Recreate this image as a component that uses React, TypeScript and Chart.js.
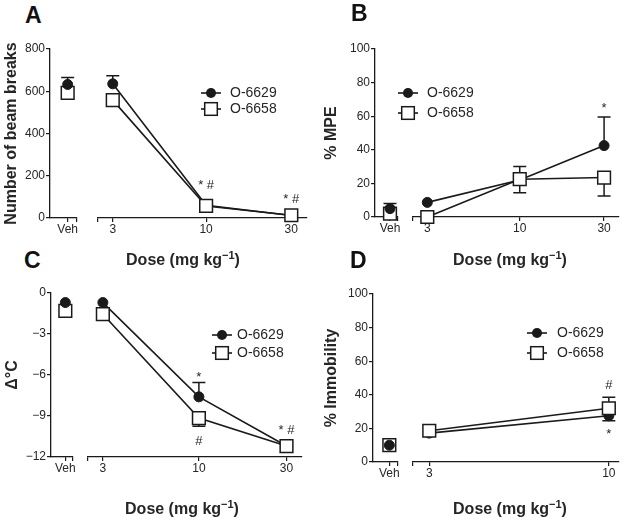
import React, { useEffect, useRef } from 'react';
import { Chart, registerables } from 'chart.js';

Chart.register(...registerables);

const FONT = "'Liberation Sans', Arial, Helvetica, sans-serif";
const INK = '#1a1a1a';
const TXT = '#262626';

Chart.defaults.font.family = FONT;
Chart.defaults.color = TXT;

// ---------- data ----------
const seriesNames = ['O-6629', 'O-6658'];
const vehLabel = 'Veh';

// Panel A: beam breaks (index 0 = Veh, then doses)
const dosesA = [3, 10, 30];
const doseLabelsA = ['3', '10', '30'];
const a6629 = [632, 635, 60, 12];
const a6629Up = [33, 38, 0, 0];
const a6629Down = [0, 0, 0, 0];
const a6658 = [592, 558, 57, 13];
const a6658Up = [0, 0, 0, 0];
const a6658Down = [30, 0, 0, 0];
const annA = [
  { dose: 10, series: 1, text: '* #', side: 'above' },
  { dose: 30, series: 1, text: '* #', side: 'above' },
];

// Panel B: % MPE
const dosesB = [3, 10, 30];
const doseLabelsB = ['3', '10', '30'];
const b6629 = [5, 8.7, 22, 42.5];
const b6629Up = [3, 0, 0, 17];
const b6629Down = [0, 0, 0, 0];
const b6658 = [2, 0, 22.5, 23.5];
const b6658Up = [0, 0, 7.5, 0];
const b6658Down = [0, 0, 8, 11];
const annB = [{ dose: 30, series: 0, text: '*', side: 'above' }];

// Panel C: delta temperature
const dosesC = [3, 10, 30];
const doseLabelsC = ['3', '10', '30'];
const c6629 = [-0.7, -0.7, -7.6, -11.2];
const c6629Up = [0, 0, 1.05, 0];
const c6629Down = [0, 0, 0, 0];
const c6658 = [-1.3, -1.55, -9.15, -11.2];
const c6658Up = [0, 0, 0, 0];
const c6658Down = [0, 0, 0.6, 0];
const annC = [
  { dose: 10, series: 0, text: '*', side: 'above' },
  { dose: 10, series: 1, text: '#', side: 'below' },
  { dose: 30, series: 1, text: '* #', side: 'above' },
];

// Panel D: % immobility
const dosesD = [3, 10];
const doseLabelsD = ['3', '10'];
const d6629 = [10, 17.2, 27.5];
const d6629Up = [0, 0, 0];
const d6629Down = [0, 0, 3];
const d6658 = [10, 18.6, 32];
const d6658Up = [0, 0, 6.5];
const d6658Down = [0, 0, 0];
const annD = [
  { dose: 10, series: 1, text: '#', side: 'above' },
  { dose: 10, series: 0, text: '*', side: 'below' },
];

// ---------- layout / style ----------
const T = 20; // top padding in canvases
const XH = 22; // x axis height

const panels = [
  {
    letter: 'A', letterPos: { x: 25, capTop: 7 },
    doses: dosesA, doseLabels: doseLabelsA,
    series: [
      { values: a6629, up: a6629Up, down: a6629Down },
      { values: a6658, up: a6658Up, down: a6658Down },
    ],
    y: { min: 0, max: 800, step: 200, title: 'Number of beam breaks', titlePad: 2 },
    xr: { min: 2.48, max: 36.5 },
    g: { vLeft: 0, yAxisX: 50, vehRight: 81, mainLeft: 98, mainRight: 307, top: 49, bottom: 218, PR: 10 },
    legend: { cx: 211, y: 93, dy: 16, tx: 19 },
    ann: annA, annDy: [-16.5, -12.5],
    xTitle: { cx: 183, capTop: 254 },
  },
  {
    letter: 'B', letterPos: { x: 351, capTop: 5 },
    doses: dosesB, doseLabels: doseLabelsB,
    series: [
      { values: b6629, up: b6629Up, down: b6629Down },
      { values: b6658, up: b6658Up, down: b6658Down },
    ],
    y: { min: 0, max: 100, step: 20, title: '% MPE', titlePad: 10.4 },
    xr: { min: 2.49, max: 36.2 },
    g: { vLeft: 312, yAxisX: 375, vehRight: 402, mainLeft: 413, mainRight: 627, top: 49, bottom: 217, PR: 2 },
    legend: { cx: 408, y: 93, dy: 20, tx: 19 },
    ann: annB, annDy: [-5],
    xTitle: { cx: 510, capTop: 254 },
  },
  {
    letter: 'C', letterPos: { x: 24, capTop: 252 },
    doses: dosesC, doseLabels: doseLabelsC,
    series: [
      { values: c6629, up: c6629Up, down: c6629Down },
      { values: c6658, up: c6658Up, down: c6658Down },
    ],
    y: { min: -12, max: 0, step: 3, title: '\u0394\u00b0C', titlePad: 3 },
    xr: { min: 2.49, max: 36.2 },
    g: { vLeft: 0, yAxisX: 51, vehRight: 77, mainLeft: 88, mainRight: 302, top: 293, bottom: 457, PR: 10 },
    legend: { cx: 222, y: 335, dy: 18, tx: 15 },
    ann: annC, annDy: [-2, 19, -12],
    xTitle: { cx: 182, capTop: 503 },
  },
  {
    letter: 'D', letterPos: { x: 350, capTop: 252 },
    doses: dosesD, doseLabels: doseLabelsD,
    series: [
      { values: d6629, up: d6629Up, down: d6629Down },
      { values: d6658, up: d6658Up, down: d6658Down },
    ],
    y: { min: 0, max: 100, step: 20, title: '% Immobility', titlePad: 10 },
    xr: { min: 2.69, max: 10.67 },
    g: { vLeft: 312, yAxisX: 373, vehRight: 402, mainLeft: 413, mainRight: 625, top: 294, bottom: 462, PR: 4 },
    legend: { cx: 537, y: 333, dy: 20, tx: 20 },
    ann: annD, annDy: [-8.5, 17],
    xTitle: { cx: 510, capTop: 503 },
  },
];

const PL = 28;

function vehBox(p: any) {
  const g = p.g;
  return { x: g.vLeft, y: g.top - T, w: g.vehRight + 6 - g.vLeft, h: T + (g.bottom - g.top) + XH };
}
function mainBox(p: any) {
  const g = p.g;
  return { x: g.mainLeft - PL, y: g.top - T, w: g.mainRight - g.mainLeft + PL + g.PR, h: T + (g.bottom - g.top) + XH };
}

const markerStyle = (k: number) =>
  k === 0
    ? { pointStyle: 'circle', pointRadius: 5, pointBackgroundColor: INK, pointBorderColor: INK, pointBorderWidth: 1 }
    : { pointStyle: 'rect', pointRadius: 9, pointBackgroundColor: '#ffffff', pointBorderColor: INK, pointBorderWidth: 1.5 };

const errorBars = {
  id: 'errorBars',
  beforeDatasetsDraw(chart: any) {
    const { ctx } = chart;
    const xs = chart.scales.x;
    const ys = chart.scales.y;
    ctx.save();
    ctx.strokeStyle = INK;
    ctx.lineWidth = 1.5;
    chart.data.datasets.forEach((ds: any) => {
      ds.data.forEach((pt: any, i: number) => {
        const x = xs.getPixelForValue(pt.x);
        const y = ys.getPixelForValue(pt.y);
        const ends: number[] = [];
        if (ds.errUp && ds.errUp[i]) ends.push(pt.y + ds.errUp[i]);
        if (ds.errDown && ds.errDown[i]) ends.push(pt.y - ds.errDown[i]);
        ends.forEach((v) => {
          const yy = ys.getPixelForValue(v);
          ctx.beginPath();
          ctx.moveTo(x, y);
          ctx.lineTo(x, yy);
          ctx.moveTo(x - 6.5, yy);
          ctx.lineTo(x + 6.5, yy);
          ctx.stroke();
        });
      });
    });
    ctx.restore();
  },
};

function axisStyle() {
  return {
    grid: { display: true, drawOnChartArea: false, drawTicks: true, tickLength: 4, color: INK, lineWidth: 1.2 },
    border: { display: true, color: INK, width: 1.3 },
  };
}

function vehConfig(p: any): any {
  const g = p.g;
  return {
    type: 'line',
    data: {
      datasets: p.series.map((s: any, k: number) => ({
        label: seriesNames[k],
        data: [{ x: 2, y: s.values[0] }],
        errUp: [s.up[0]],
        errDown: [s.down[0]],
        showLine: false,
        order: k,
        clip: false,
        borderColor: INK,
        ...markerStyle(k),
      })),
    },
    options: {
      responsive: false,
      animation: false,
      events: [],
      layout: { padding: { left: 0, right: 6, top: T, bottom: 0 } },
      plugins: { legend: { display: false }, tooltip: { enabled: false } },
      scales: {
        x: {
          type: 'linear', min: 0, max: 3,
          afterBuildTicks: (s: any) => { s.ticks = [{ value: 2 }, { value: 3 }]; },
          afterFit: (s: any) => { s.height = XH; },
          ticks: { autoSkip: false, maxRotation: 0, padding: 0, font: { size: 12 }, color: TXT,
            callback: (v: any) => (v === 2 ? vehLabel : '') },
          ...axisStyle(),
        },
        y: {
          type: 'linear', min: p.y.min, max: p.y.max,
          afterFit: (s: any) => { s.width = g.yAxisX - g.vLeft; },
          ticks: { stepSize: p.y.step, padding: 1, font: { size: 12 }, color: TXT,
            callback: (v: any) => (v < 0 ? '\u2212' + Math.abs(v) : String(v)) },
          title: { display: true, text: p.y.title, font: { size: 16, weight: 'bold' }, color: TXT,
            padding: { top: p.y.titlePad, bottom: 0 } },
          ...axisStyle(),
        },
      },
    },
    plugins: [errorBars],
  };
}

function mainConfig(p: any): any {
  const g = p.g;
  const box = mainBox(p);
  const overlay = {
    id: 'overlay',
    afterDatasetsDraw(chart: any) {
      const { ctx } = chart;
      const xs = chart.scales.x;
      const ys = chart.scales.y;
      ctx.save();
      // annotations
      ctx.fillStyle = TXT;
      ctx.font = `13px ${FONT}`;
      ctx.textAlign = 'center';
      ctx.textBaseline = 'alphabetic';
      p.ann.forEach((a: any, j: number) => {
        const s = p.series[a.series];
        const i = p.doses.indexOf(a.dose) + 1;
        const v = s.values[i];
        const anchor = a.side === 'above' ? v + (s.up[i] || 0) : v - (s.down[i] || 0);
        const x = xs.getPixelForValue(a.dose);
        const y = ys.getPixelForValue(anchor) + p.annDy[j];
        ctx.fillText(a.text, x, y);
      });
      // legend
      const L = p.legend;
      ctx.textAlign = 'left';
      ctx.textBaseline = 'middle';
      ctx.font = `14px ${FONT}`;
      seriesNames.forEach((name, k) => {
        const cx = L.cx - box.x;
        const cy = L.y + k * L.dy - box.y;
        ctx.strokeStyle = INK;
        ctx.lineWidth = 1.6;
        ctx.beginPath();
        ctx.moveTo(cx - 10, cy);
        ctx.lineTo(cx + 10, cy);
        ctx.stroke();
        if (k === 0) {
          ctx.fillStyle = INK;
          ctx.beginPath();
          ctx.arc(cx, cy, 5, 0, Math.PI * 2);
          ctx.fill();
        } else {
          ctx.fillStyle = '#ffffff';
          ctx.lineWidth = 1.5;
          ctx.fillRect(cx - 6.3, cy - 6.3, 12.6, 12.6);
          ctx.strokeRect(cx - 6.3, cy - 6.3, 12.6, 12.6);
        }
        ctx.fillStyle = TXT;
        ctx.fillText(name, cx + L.tx, cy + 0.5);
      });
      ctx.restore();
    },
  };
  return {
    type: 'line',
    data: {
      datasets: p.series.map((s: any, k: number) => ({
        label: seriesNames[k],
        data: p.doses.map((d: number, i: number) => ({ x: d, y: s.values[i + 1] })),
        errUp: s.up.slice(1),
        errDown: s.down.slice(1),
        order: 1 - k,
        clip: false,
        borderColor: INK,
        borderWidth: 1.6,
        tension: 0,
        fill: false,
        ...markerStyle(k),
      })),
    },
    options: {
      responsive: false,
      animation: false,
      events: [],
      layout: { padding: { left: PL, right: g.PR, top: T, bottom: 0 } },
      plugins: { legend: { display: false }, tooltip: { enabled: false } },
      scales: {
        x: {
          type: 'logarithmic', min: p.xr.min, max: p.xr.max,
          afterBuildTicks: (s: any) => {
            s.ticks = [{ value: p.xr.min }, ...p.doses.map((d: number) => ({ value: d }))];
          },
          afterFit: (s: any) => { s.height = XH; },
          ticks: { autoSkip: false, maxRotation: 0, padding: 0, font: { size: 12 }, color: TXT,
            callback: (_v: any, i: number) => (i === 0 ? '' : p.doseLabels[i - 1]) },
          ...axisStyle(),
        },
        y: { display: false, type: 'linear', min: p.y.min, max: p.y.max },
      },
    },
    plugins: [errorBars, overlay],
  };
}

export default function App() {
  const refs = useRef<(HTMLCanvasElement | null)[]>([]);

  useEffect(() => {
    const charts: Chart[] = [];
    panels.forEach((p, i) => {
      const v = refs.current[2 * i];
      const m = refs.current[2 * i + 1];
      if (v) charts.push(new Chart(v, vehConfig(p)));
      if (m) charts.push(new Chart(m, mainConfig(p)));
    });
    return () => {
      charts.forEach((c) => c.destroy());
    };
  }, []);

  return (
    <div style={{ position: 'fixed', left: 0, top: 0, width: 629, height: 518, background: '#fff',
      fontFamily: FONT, color: TXT, overflow: 'hidden' }}>
      {panels.map((p, i) => {
        const v = vehBox(p);
        const m = mainBox(p);
        return (
          <React.Fragment key={i}>
            <canvas
              ref={(el) => { refs.current[2 * i] = el; }}
              width={v.w} height={v.h}
              style={{ position: 'absolute', left: v.x, top: v.y, width: v.w, height: v.h }}
            />
            <canvas
              ref={(el) => { refs.current[2 * i + 1] = el; }}
              width={m.w} height={m.h}
              style={{ position: 'absolute', left: m.x, top: m.y, width: m.w, height: m.h }}
            />
            <div style={{ position: 'absolute', left: p.letterPos.x, top: p.letterPos.capTop - 3,
              fontSize: 23, lineHeight: '23px', fontWeight: 'bold', color: '#111' }}>
              {p.letter}
            </div>
            <div style={{ position: 'absolute', left: p.xTitle.cx - 100, width: 200, top: p.xTitle.capTop - 2,
              textAlign: 'center', fontSize: 16, lineHeight: '16px', fontWeight: 'bold', whiteSpace: 'nowrap' }}>
              Dose (mg kg
              <span style={{ fontSize: 11, position: 'relative', top: -6, lineHeight: 0 }}>{'\u22121'}</span>
              )
            </div>
          </React.Fragment>
        );
      })}
    </div>
  );
}
